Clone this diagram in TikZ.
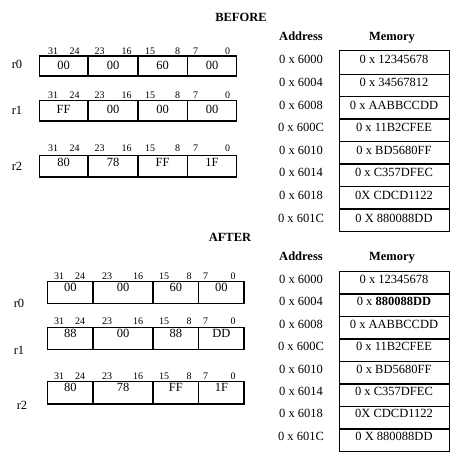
\documentclass[tikz,border=0pt]{standalone}
\usepackage{fontspec}
\setmainfont{Liberation Serif}
\begin{document}
\begin{tikzpicture}[x=1pt,y=-1pt,
  txt/.style={anchor=base,inner sep=0pt,font=\fontsize{12.5}{14}\selectfont},
  hdr/.style={anchor=base,inner sep=0pt,font=\fontsize{12.5}{14}\selectfont\bfseries},
  bit/.style={anchor=base,inner sep=0pt,font=\fontsize{10}{11}\selectfont},
  box/.style={draw,line width=1.1pt}]
\useasboundingbox[fill=white] (0,0) rectangle (463,460);

% ---------- titles ----------
\node[hdr] (tbefore) at (241,21.5) {BEFORE};
\node[hdr] (tafter) at (230,241.5) {AFTER};
\node[hdr] (haddrb) at (301,40.9) {Address};
\node[hdr] (hmemb) at (392,40.9) {Memory};
\node[hdr] (haddra) at (301,260.9) {Address};
\node[hdr] (hmema) at (392,260.9) {Memory};

% ---------- BEFORE registers ----------
\foreach \r/\t/\b/\ty/\by/\ly/\va/\vb/\vc/\vd in {
  0/56/76/69.2/54.1/68.2/00/00/60/00,
  1/100.7/121/113.2/98.4/114.9/FF/00/00/00,
  2/155.3/177/166.2/151.4/170.2/80/78/FF/1F}{
  \draw[box] (39.3,\t) rectangle (236.7,\b);
  \foreach \dx in {88,138,187.3} \draw[box] (\dx,\t) -- (\dx,\b);
  \node[txt] (bl\r) at (17,\ly) {r\r};
  \node[txt] (bc\r a) at (63.65,\ty) {\va};
  \node[txt] (bc\r b) at (113,\ty) {\vb};
  \node[txt] (bc\r c) at (162.65,\ty) {\vc};
  \node[txt] (bc\r d) at (212,\ty) {\vd};
  \foreach \bx/\bn in {53/31,74.5/24,99.5/23,126.5/16,150/15,177.5/8,195.5/7,227.5/0}
    \node[bit] (bb\r-\bn) at (\bx,\by) {\bn};
}

% ---------- AFTER registers ----------
\foreach \r/\t/\b/\ty/\by/\lx/\ly/\va/\vb/\vc/\vd in {
  0/281.7/303.3/291/279.4/19/307.2/00/00/60/00,
  1/327.3/349.3/337.2/324.4/19/354.2/88/00/88/DD,
  2/381.3/404/391.2/379.1/22/409.2/80/78/FF/1F}{
  \draw[box] (47.7,\t) rectangle (244,\b);
  \foreach \dx in {93,153,198.7} \draw[box] (\dx,\t) -- (\dx,\b);
  \node[txt] (al\r) at (\lx,\ly) {r\r};
  \node[txt] (ac\r a) at (70.35,\ty) {\va};
  \node[txt] (ac\r b) at (123,\ty) {\vb};
  \node[txt] (ac\r c) at (175.85,\ty) {\vc};
  \node[txt] (ac\r d) at (221.35,\ty) {\vd};
  \foreach \bx/\bn in {59/31,80/24,107/23,138/16,164/15,189/8,205.5/7,233/0}
    \node[bit] (ab\r-\bn) at (\bx,\by) {\bn};
}

% ---------- BEFORE memory ----------
\draw[box] (339.3,50.7) rectangle (449.3,231.7);
\foreach \ly in {74.3,96.7,119,141.7,164,186.7,209} \draw[box] (339.3,\ly) -- (449.3,\ly);
\foreach \i/\ad/\mv in {0/6000/0 x 12345678,1/6004/0 x 34567812,2/6008/0 x AABBCCDD,
  3/600C/0 x 11B2CFEE,4/6010/0 x BD5680FF,5/6014/0 x C357DFEC,6/6018/0X CDCD1122,
  7/601C/0 X 880088DD}{
  \node[txt] (ba\i) at (301,63.9+22.6*\i) {0 x \ad};
  \node[txt] (bm\i) at (394,63.9+22.6*\i) {\mv};
}

% ---------- AFTER memory ----------
\draw[box] (339.3,271.7) rectangle (449.3,451.7);
\foreach \ly in {294,316.7,339,361.7,384,406.7,429} \draw[box] (339.3,\ly) -- (449.3,\ly);
\foreach \i/\ad/\mv in {0/6000/0 x 12345678,1/6004/0 x \textbf{880088DD},2/6008/0 x AABBCCDD,
  3/600C/0 x 11B2CFEE,4/6010/0 x BD5680FF,5/6014/0 x C357DFEC,6/6018/0X CDCD1122,
  7/601C/0 X 880088DD}{
  \node[txt] (aa\i) at (301,283.2+22.45*\i) {0 x \ad};
  \node[txt] (am\i) at (394,283.2+22.45*\i) {\mv};
}
\end{tikzpicture}
\end{document}
